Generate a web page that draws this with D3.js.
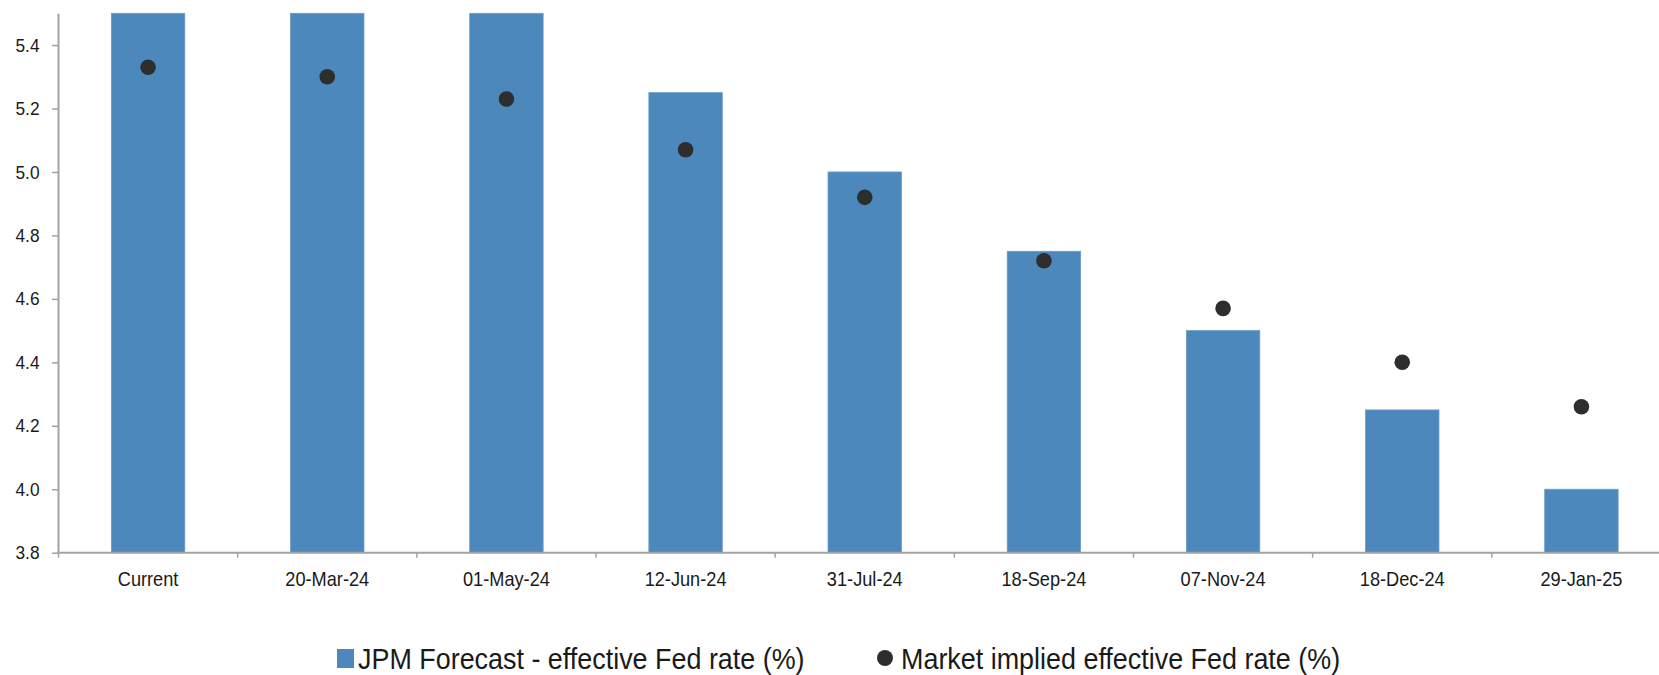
<!DOCTYPE html>
<html>
<head>
<meta charset="utf-8">
<script src="https://cdn.jsdelivr.net/npm/d3@7/dist/d3.min.js"></script>
<style>
  html, body { margin: 0; padding: 0; background: #fff; }
  svg { display: block; }
  text { font-family: "Liberation Sans", Arial, sans-serif; fill: #1a1a1a; }
</style>
</head>
<body>
<svg id="chart" width="1659" height="675"></svg>
<script>
// FOMC meeting dates
const meetings = ["Current", "20-Mar-24", "01-May-24", "12-Jun-24", "31-Jul-24",
                  "18-Sep-24", "07-Nov-24", "18-Dec-24", "29-Jan-25"];
// JPM forecast path (%)
const jpmForecast = [5.50, 5.50, 5.50, 5.25, 5.00, 4.75, 4.50, 4.25, 4.00];
// Market implied effective Fed funds rate (%)
const marketImplied = [5.33, 5.30, 5.23, 5.07, 4.92, 4.72, 4.57, 4.40, 4.26];
// Y axis ticks
const yTicks = [3.8, 4.0, 4.2, 4.4, 4.6, 4.8, 5.0, 5.2, 5.4];
const seriesNames = ["JPM Forecast - effective Fed rate (%)", "Market implied effective Fed rate (%)"];

const barColor = "#4d88bd";
const dotColor = "#2e2e2e";
const axisColor = "#a3a3a3";
const squeeze = 0.91;       // narrow type for axis labels
const legendSqueeze = 0.928;

const svg = d3.select("#chart");
svg.append("rect").attr("width", 1659).attr("height", 675).attr("fill", "#fff");

const inner = 0.59;
const x = d3.scaleBand()
  .domain(meetings)
  .range([58.5, 1671])
  .paddingInner(inner)
  .paddingOuter(inner / 2);

const y = d3.scaleLinear().domain([3.8, 5.5]).range([552.7, 13.3]);

// bars
svg.append("g").selectAll("rect")
  .data(meetings)
  .join("rect")
  .attr("x", d => x(d))
  .attr("width", x.bandwidth())
  .attr("y", (d, i) => y(jpmForecast[i]))
  .attr("height", (d, i) => y(3.8) - y(jpmForecast[i]))
  .attr("fill", barColor)
  .attr("stroke", "#6a9dcc")
  .attr("stroke-width", 0.8);

// market implied dots
svg.append("g").selectAll("circle")
  .data(meetings)
  .join("circle")
  .attr("cx", d => x(d) + x.bandwidth() / 2)
  .attr("cy", (d, i) => y(marketImplied[i]))
  .attr("r", 7.8)
  .attr("fill", dotColor);

// y axis
const yAxis = svg.append("g")
  .attr("transform", "translate(58,0)")
  .call(d3.axisLeft(y).tickValues(yTicks).tickFormat(d3.format(".1f")).tickSize(6).tickSizeOuter(0));
yAxis.select(".domain").attr("stroke", axisColor).attr("stroke-width", 2);
yAxis.selectAll(".tick line").attr("stroke", axisColor).attr("stroke-width", 1.5);
yAxis.selectAll(".tick text")
  .attr("x", 0)
  .attr("font-size", 19)
  .attr("fill", "#1a1a1a")
  .attr("transform", `translate(-18.5,0) scale(${squeeze},1)`);

// x axis: labels at band centres
const xAxis = svg.append("g")
  .attr("transform", `translate(0,${y(3.8)})`)
  .call(d3.axisBottom(x).tickSize(0).tickPadding(19));
xAxis.select(".domain").remove();
xAxis.selectAll(".tick text")
  .attr("font-size", 20)
  .attr("fill", "#1a1a1a")
  .attr("transform", `scale(${squeeze},1)`);

// x axis baseline and tick marks at band boundaries
const base = svg.append("g").attr("transform", `translate(0,${y(3.8)})`);
base.append("line")
  .attr("x1", x.range()[0] - 1).attr("x2", x.range()[1])
  .attr("stroke", axisColor).attr("stroke-width", 2);
base.selectAll("line.tk")
  .data(meetings)
  .join("line")
  .attr("class", "tk")
  .attr("x1", d => x(d) - x.step() * inner / 2)
  .attr("x2", d => x(d) - x.step() * inner / 2)
  .attr("y1", 0).attr("y2", 5)
  .attr("stroke", axisColor).attr("stroke-width", 1.5);

// legend
const legend = svg.append("g");
legend.append("rect")
  .attr("x", 337).attr("y", 649).attr("width", 17).attr("height", 19)
  .attr("fill", barColor);
legend.append("text")
  .attr("transform", `translate(358,669) scale(${legendSqueeze},1)`)
  .attr("font-size", 29)
  .text(seriesNames[0]);
legend.append("circle")
  .attr("cx", 885).attr("cy", 658).attr("r", 8)
  .attr("fill", dotColor);
legend.append("text")
  .attr("transform", `translate(901,669) scale(${legendSqueeze},1)`)
  .attr("font-size", 29)
  .text(seriesNames[1]);
</script>
</body>
</html>
